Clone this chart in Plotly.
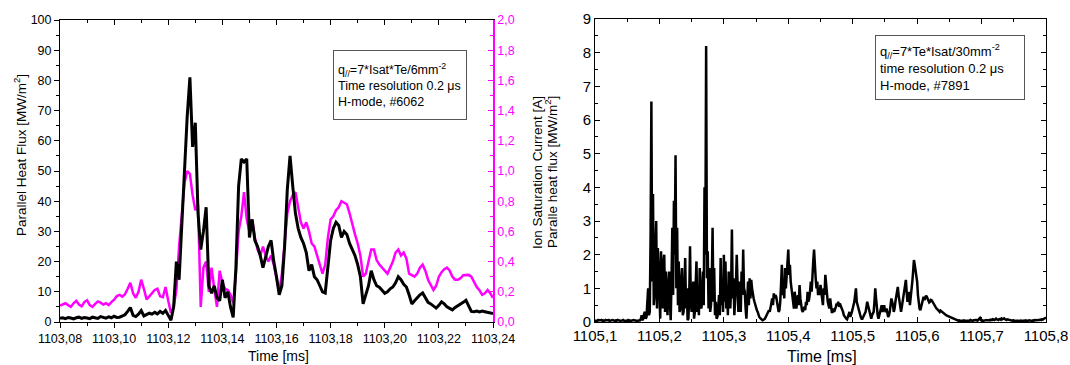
import numpy as np
import plotly.graph_objects as go

# ---------------- Shot #6062 (left panel) ----------------
# sampling of the probe signals, ms
t0_6062 = 1103.080
dt_6062 = 0.001

# parallel heat flux, MW/m^2
q_6062 = [
    1.2, 1.4, 1.1, 1.5, 1.3, 1.0, 1.4, 1.6, 1.2, 1.5,
    1.3, 1.1, 1.6, 1.4, 1.2, 1.8, 1.5, 1.3, 1.7, 1.4,
    1.9, 1.5, 1.6, 2.0, 2.4, 3.5, 4.8, 2.2, 1.8, 2.6,
    3.8, 2.0, 2.4, 2.9, 2.6, 3.2, 2.7, 3.5, 2.9, 3.8,
    2.2, 0.6, 5.0, 20, 14, 30, 50, 68, 81, 58,
    66, 36, 24, 30, 38, 12, 9.5, 12, 8, 7,
    14, 8, 10, 5, 1.5, 18, 45, 54, 53, 54,
    28, 34, 27, 25, 22, 18, 22, 25, 27, 20,
    15, 9, 12, 25, 44, 55, 45, 36, 31, 28,
    26, 23, 17, 19, 15, 14, 12, 10, 9.6, 18,
    27, 31, 33, 32, 28, 30, 29, 26, 24, 22,
    19, 15, 6, 9, 12, 17, 14, 12, 11.5, 10.5,
    9.5, 10, 11, 11.6, 13, 15, 14, 12.5, 11.6, 9,
    6, 7, 8, 9, 9.6, 8, 6.5, 6, 5.2, 4.6,
    5.5, 6.7, 6, 5, 4.5, 4, 4.8, 5.3, 5.8, 6.5,
    7.2, 5.5, 3.5, 3.4, 3.6, 3.3, 3.6, 3.4, 3.2, 3.0, 2.8,
]

# ion saturation current, A
isat_6062 = [
    .108, .116, .124, .112, .100, .124, .140, .116, .104, .132,
    .144, .112, .100, .120, .136, .128, .116, .124, .112, .132,
    .148, .172, .180, .168, .184, .22, .26, .19, .16, .20,
    .28, .22, .15, .17, .192, .212, .22, .17, .164, .232,
    .14, .06, .10, .212, .50, .72, .92, 1.00, .98, .84,
    .74, .78, .10, .36, .40, .20, .36, .22, .10, .34,
    .26, .22, .212, .18, .126, .32, .60, .70, .86, .68,
    .60, .68, .56, .48, .44, .50, .44, .40, .44, .38,
    .30, .20, .32, .52, .72, .80, .84, .86, .76, .66,
    .62, .66, .60, .52, .50, .44, .38, .32, .38, .56,
    .68, .70, .74, .76, .80, .79, .78, .72, .64, .58,
    .52, .44, .30, .32, .40, .48, .48, .41, .38, .36,
    .34, .32, .36, .40, .46, .48, .44, .46, .42, .32,
    .31, .30, .32, .36, .38, .34, .28, .24, .212, .24,
    .30, .33, .35, .36, .34, .30, .28, .28, .29, .31,
    .312, .312, .30, .26, .232, .21, .18, .19, .212, .19, .16,
]

x_ticks_6062 = [1103.08, 1103.10, 1103.12, 1103.14, 1103.16, 1103.18, 1103.20, 1103.22, 1103.24]
x_labels_6062 = ["1103,08", "1103,10", "1103,12", "1103,14", "1103,16", "1103,18", "1103,20", "1103,22", "1103,24"]
isat_ticks = [0.0, 0.2, 0.4, 0.6, 0.8, 1.0, 1.2, 1.4, 1.6, 1.8, 2.0]
isat_labels = ["0,0", "0,2", "0,4", "0,6", "0,8", "1,0", "1,2", "1,4", "1,6", "1,8", "2,0"]

# ---------------- Shot #7891 (right panel) ----------------
t0_7891 = 1105.100
dt_7891 = 0.00125

# parallel heat flux, MW/m^2
q_7891 = [
    # quiet phase before the ELM
    0.04, 0.05, 0.04, 0.03, 0.06, 0.05, 0.04, 0.05, 0.06, 0.04,
    0.05, 0.03, 0.04, 0.06, 0.05, 0.04, 0.05, 0.06, 0.03, 0.04,
    0.05, 0.04, 0.06, 0.05, 0.04, 0.03, 0.05, 0.04, 0.06, 0.05,
    0.04, 0.05, 0.03, 0.04, 0.05, 0.06, 0.04, 0.05, 0.04, 0.03,
    0.05, 0.06, 0.04, 0.05, 0.03, 0.04, 0.05, 0.04, 0.06, 0.05,
    0.04, 0.05, 0.03, 0.04, 0.05, 0.06,
    # burst
    0.05, 0.1, 0.2, 0.05, 0.1, 0.25, 0.3, 0.1, 0.15, 0.6,
    1.0, 0.2, 0.3, 2.5, 6.55, 1.2, 3.8, 0.5, 0.8, 2.2,
    3.0, 0.4, 2.2, 1.6, 0.5, 0.1, 2.1, 0.6, 0.4, 1.8,
    2.0, 0.3, 1.5, 1.0, 0.2, 0.9, 1.5, 0.6, 0.05, 1.2,
    2.8, 0.8, 3.6, 2.0, 4.95, 1.0, 2.8, 0.5, 1.8, 0.3,
    0.4, 1.2, 1.6, 0.2, 0.3, 1.0, 1.9, 0.4, 1.0, 0.05,
    0.1, 0.8, 2.25, 0.6, 0.3, 0.9, 1.2, 0.1, 0.3, 1.1,
    1.8, 0.3, 0.7, 0.2, 1.6, 0.9, 0.4, 0.6, 1.5, 0.5,
    4.0, 2.0, 8.2, 1.3, 2.1, 0.4, 1.6, 0.3, 0.5, 1.2,
    2.8, 0.6, 1.6, 0.2, 0.6, 0.1, 0.15, 0.4, 0.8, 0.2,
    1.9, 0.5, 1.0, 0.3, 2.0, 0.6, 1.8, 0.4, 0.9, 0.2,
    1.5, 0.8, 0.4, 1.0, 2.75, 0.7, 1.3, 0.2, 0.6, 1.1,
    2.0, 0.9, 0.3, 0.6, 1.2, 0.3, 1.5, 0.8, 2.15, 1.0,
    0.9, 0.4, 0.1, 0.6, 1.2, 0.5, 1.3, 0.7, 1.25, 1.0,
    0.8, 0.7, 0.6, 0.5, 0.4, 0.35, 0.3, 0.2, 0.15, 0.12,
    0.1, 0.07, 0.05, 0.06, 0.08, 0.1, 0.15, 0.2, 0.25, 0.3,
    0.35, 0.3, 0.45, 0.55, 0.7, 0.5, 0.85, 0.7, 0.8, 0.75,
    0.6, 0.45, 0.3, 0.35, 0.6, 1.1, 1.7, 0.8, 1.2, 0.7,
    1.6, 1.0, 1.5, 1.8, 2.15, 1.4, 1.7, 1.2, 1.0, 0.7,
    0.6, 0.4, 0.9, 0.5, 0.4, 0.6, 0.8, 0.5, 1.1, 0.7,
    0.5, 0.35, 0.3, 0.4, 0.45, 0.35, 0.6, 0.5, 0.9, 0.6,
    0.7, 0.9, 1.2, 0.9, 1.6, 1.8, 2.15, 1.5, 1.3, 1.0,
    1.2, 0.8, 1.0, 0.8, 1.1, 0.9, 0.6, 0.5, 1.0, 0.8,
    1.4, 1.1, 0.9, 0.6, 0.5, 0.4, 0.7, 0.45, 0.3, 0.3,
    0.4, 0.3, 0.35, 0.45, 0.55, 0.5, 0.6, 0.45, 0.55, 0.5,
    0.4, 0.35, 0.3, 0.2, 0.15, 0.12, 0.1, 0.08, 0.15, 0.2,
    0.3, 0.15, 0.2, 0.3, 0.4, 0.5, 0.6, 0.8, 1.0, 0.6,
    0.5, 0.4, 0.3, 0.2, 0.15, 0.1, 0.1, 0.15, 0.2, 0.25,
    0.3, 0.45, 0.6, 0.5, 0.4, 0.25, 0.15, 0.1, 0.2, 0.25,
    0.3, 0.6, 1.0, 0.7, 0.4, 0.2, 0.1, 0.2, 0.3, 0.45,
    0.5, 0.3, 0.4, 0.5, 0.35, 0.3, 0.4, 0.25, 0.15, 0.2,
    0.3, 0.5, 0.7, 0.6, 0.5, 0.3, 0.4, 0.6, 0.8, 0.9,
    1.04, 0.8, 0.6, 0.4, 0.3, 0.45, 0.6, 0.8, 0.9, 1.1,
    1.25, 0.9, 0.6, 0.7, 0.9, 0.5, 0.7, 0.9, 1.2, 1.5,
    1.84, 1.7, 1.5, 1.3, 1.2, 0.8, 0.5, 0.4, 0.35, 0.45,
    0.6, 0.7, 0.75, 0.65, 0.72, 0.78, 0.75, 0.7, 0.65, 0.58,
    0.6, 0.66, 0.65, 0.6, 0.55, 0.5, 0.45, 0.42, 0.4, 0.38,
    0.35, 0.33, 0.3, 0.34, 0.32, 0.3, 0.28, 0.25, 0.22, 0.21,
    0.2, 0.19, 0.18, 0.16, 0.15, 0.13, 0.12, 0.11, 0.1, 0.09,
    0.08, 0.07, 0.06, 0.055,
    # decay to background
    0.05, 0.04, 0.05, 0.03, 0.04, 0.05, 0.04, 0.03, 0.05, 0.04,
    0.04, 0.05, 0.03, 0.04, 0.05, 0.04, 0.06, 0.05, 0.04, 0.03,
    0.05, 0.04, 0.05, 0.06, 0.05, 0.04, 0.07, 0.09, 0.12, 0.06,
    0.04, 0.05, 0.03, 0.04, 0.05, 0.04, 0.06, 0.05, 0.04, 0.05,
    0.06, 0.05, 0.07, 0.06, 0.08, 0.07, 0.06, 0.08, 0.1, 0.08,
    0.07, 0.06, 0.08, 0.09, 0.07, 0.1, 0.08, 0.09, 0.11, 0.08,
    0.07, 0.06, 0.08, 0.07, 0.06, 0.05, 0.06, 0.05, 0.04, 0.05,
    0.04, 0.05, 0.03, 0.04, 0.05, 0.04, 0.03, 0.04, 0.05, 0.04,
    0.03, 0.04, 0.05, 0.04, 0.03, 0.05, 0.04, 0.03, 0.04, 0.05,
    0.04, 0.05, 0.04, 0.03, 0.05, 0.04, 0.06, 0.05, 0.04, 0.05,
    0.06, 0.05, 0.06, 0.07, 0.06, 0.08, 0.07, 0.09, 0.1, 0.11, 0.13,
]

x_ticks_7891 = [1105.1, 1105.2, 1105.3, 1105.4, 1105.5, 1105.6, 1105.7, 1105.8]
x_labels_7891 = ["1105,1", "1105,2", "1105,3", "1105,4", "1105,5", "1105,6", "1105,7", "1105,8"]

time_6062 = t0_6062 + dt_6062 * np.arange(len(q_6062))
time_7891 = t0_7891 + dt_7891 * np.arange(len(q_7891))

# ---------------- figure ----------------
W, H = 1070, 365
FONT = "Liberation Sans, Arial, sans-serif"
MAGENTA = "#FF00FF"


def fx(px):
    return px / W


def fy(px):
    return 1 - px / H


fig = go.Figure()

# magenta Isat on the base subplot, black heat flux on the overlay (drawn on top)
fig.add_trace(go.Scatter(x=time_6062, y=isat_6062, mode="lines",
                         line=dict(color=MAGENTA, width=2.5),
                         xaxis="x", yaxis="y", hoverinfo="skip"))
fig.add_trace(go.Scatter(x=time_6062, y=q_6062, mode="lines",
                         line=dict(color="black", width=3),
                         xaxis="x", yaxis="y2", hoverinfo="skip"))
# top frame axis of the left panel
fig.add_trace(go.Scatter(x=[], y=[], xaxis="x3", yaxis="y", hoverinfo="skip"))
fig.add_trace(go.Scatter(x=time_7891, y=q_7891, mode="lines",
                         line=dict(color="black", width=2.5),
                         xaxis="x2", yaxis="y3", hoverinfo="skip"))

left_dom_x = [fx(60), fx(493)]
left_dom_y = [fy(322), fy(20)]
right_dom_x = [fx(595), fx(1046)]
right_dom_y = [fy(322), fy(19)]

tick_font_l = dict(family=FONT, size=12.5, color="black")
tick_font_r = dict(family=FONT, size=15, color="black")

common = dict(automargin=False, showgrid=False, zeroline=False, tickwidth=1)

fig.update_layout(
    width=W, height=H,
    margin=dict(l=0, r=0, t=0, b=0, autoexpand=False),
    paper_bgcolor="white", plot_bgcolor="white",
    showlegend=False,
    font=dict(family=FONT, color="black"),
    xaxis=dict(
        domain=left_dom_x, anchor="y", range=[1103.08, 1103.24],
        tickmode="array", tickvals=x_ticks_6062, ticktext=x_labels_6062,
        ticks="outside", ticklen=5, tickcolor="black",
        minor=dict(ticks="outside", ticklen=3, tickmode="linear", tick0=1103.08, dtick=0.01,
                   tickcolor="black", showgrid=False),
        showline=True, linecolor="black", linewidth=1,
        tickfont=tick_font_l, **common,
    ),
    xaxis3=dict(
        overlaying="x", anchor="y", side="top", range=[1103.08, 1103.24],
        tickmode="array", tickvals=x_ticks_6062, showticklabels=False,
        ticks="inside", ticklen=5, tickcolor="black",
        minor=dict(ticks="inside", ticklen=3, tickmode="linear", tick0=1103.08, dtick=0.01,
                   tickcolor="black", showgrid=False),
        showline=True, linecolor="black", linewidth=1, **common,
    ),
    yaxis=dict(
        domain=left_dom_y, anchor="x", side="right", range=[0, 2.0],
        tickmode="array", tickvals=isat_ticks, ticktext=isat_labels,
        ticks="inside", ticklen=5, tickcolor=MAGENTA,
        minor=dict(ticks="inside", ticklen=3, tickmode="linear", tick0=0, dtick=0.1,
                   tickcolor=MAGENTA, showgrid=False),
        showline=True, linecolor=MAGENTA, linewidth=1.5,
        tickfont=dict(family=FONT, size=12.5, color=MAGENTA), **common,
    ),
    yaxis2=dict(
        overlaying="y", anchor="x", side="left", range=[0, 100],
        tickmode="linear", tick0=0, dtick=10,
        ticks="outside", ticklen=5, tickcolor="black",
        minor=dict(ticks="outside", ticklen=3, tickmode="linear", tick0=0, dtick=5,
                   tickcolor="black", showgrid=False),
        showline=True, linecolor="black", linewidth=1,
        tickfont=tick_font_l, **common,
    ),
    xaxis2=dict(
        domain=right_dom_x, anchor="y3", range=[1105.1, 1105.8],
        tickmode="array", tickvals=x_ticks_7891, ticktext=x_labels_7891,
        ticks="inside", ticklen=5, tickcolor="black",
        minor=dict(ticks="inside", ticklen=3, tickmode="linear", tick0=1105.1, dtick=0.05,
                   tickcolor="black", showgrid=False),
        showline=True, linecolor="black", linewidth=1, mirror="allticks",
        tickfont=tick_font_r, **common,
    ),
    yaxis3=dict(
        domain=right_dom_y, anchor="x2", range=[0, 9],
        tickmode="linear", tick0=0, dtick=1,
        ticks="inside", ticklen=5, tickcolor="black",
        minor=dict(ticks="inside", ticklen=3, tickmode="linear", tick0=0, dtick=0.5,
                   tickcolor="black", showgrid=False),
        showline=True, linecolor="black", linewidth=1, mirror="allticks",
        tickfont=tick_font_r, **common,
    ),
)

annotations = [
    # axis titles
    dict(text="Parallel Heat Flux [MW/m<sup>2</sup>]", x=fx(20), y=fy(155), textangle=-90,
         font=dict(size=13.5)),
    dict(text="Ion Saturation Current [A]", x=fx(538), y=fy(173), textangle=-90,
         font=dict(size=13.5)),
    dict(text="Paralle heat flux [MW/m<sup>2</sup>]", x=fx(551), y=fy(172), textangle=-90,
         font=dict(size=13.5)),
    dict(text="Time [ms]", x=fx(278), y=fy(356), font=dict(size=14)),
    dict(text="Time [ms]", x=fx(822), y=fy(356), font=dict(size=16)),
    # info boxes
    dict(text="q<sub>//</sub>=7*Isat*Te/6mm<sup>-2</sup><br>Time resolution 0.2 \u03bcs<br>H-mode, #6062",
         x=fx(333), y=fy(50), xanchor="left", yanchor="top", align="left", valign="middle",
         width=124, height=60, borderpad=4, bordercolor="#555555", borderwidth=1,
         bgcolor="white", font=dict(size=12.5)),
    dict(text="q<sub>//</sub>=7*Te*Isat/30mm<sup>-2</sup><br>time resolution 0.2 \u03bcs<br>H-mode, #7891",
         x=fx(875), y=fy(35), xanchor="left", yanchor="top", align="left", valign="middle",
         width=140, height=55, borderpad=4, bordercolor="#555555", borderwidth=1,
         bgcolor="white", font=dict(size=13)),
]
for a in annotations:
    a.setdefault("xref", "paper")
    a.setdefault("yref", "paper")
    a.setdefault("showarrow", False)
    a.setdefault("xanchor", "center")
    a.setdefault("yanchor", "middle")
    a["font"] = dict(family=FONT, color="black", **a.get("font", {}))
fig.update_layout(annotations=annotations)

fig.write_html("out.html")
